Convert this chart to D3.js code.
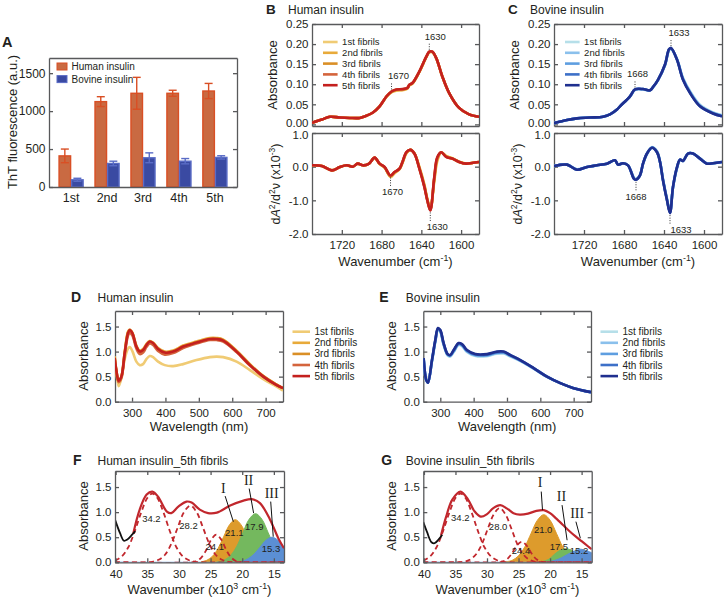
<!DOCTYPE html>
<html>
<head>
<meta charset="utf-8">
<script src="https://cdn.jsdelivr.net/npm/d3@7"></script>
<style>
body { margin: 0; background: #fff; }
</style>
</head>
<body>
<script>
// ---------- Panel A: ThT fluorescence ----------
var rounds = ["1st", "2nd", "3rd", "4th", "5th"];
var thtHuman = [410, 1125, 1235, 1235, 1265];
var thtHumanErr = [90, 65, 210, 40, 100];
var thtBovine = [95, 310, 385, 340, 390];
var thtBovineErr = [20, 30, 65, 35, 22];
var thtTicks = [0, 500, 1000, 1500];

// ---------- Panels B/C: FTIR ----------
var fibrilNames = ["1st fibrils", "2nd fibrils", "3rd fibrils", "4th fibrils", "5th fibrils"];
var irTicks = [1720, 1680, 1640, 1600];
var absTicks = [0, 0.05, 0.10, 0.15, 0.20, 0.25];
var d2Ticks = [-2, -1, 0, 1];

var wnHumanAbs = [1750,1740,1732,1722,1712,1702,1697,1689,1682,1675,1670,1665,1659,1654,1652,1649,1642,1635,1632,1629,1625,1619,1612,1602,1592,1582];
var humanAbs1 = [0.004,0.012,0.019,0.017,0.016,0.016,0.020,0.029,0.045,0.069,0.080,0.084,0.085,0.089,0.097,0.101,0.130,0.167,0.179,0.180,0.164,0.120,0.078,0.041,0.025,0.019];
var humanAbs2 = [0.004,0.012,0.019,0.017,0.016,0.016,0.020,0.029,0.045,0.069,0.081,0.085,0.086,0.090,0.098,0.102,0.131,0.168,0.180,0.180,0.165,0.120,0.078,0.041,0.025,0.019];
var humanAbs3 = [0.004,0.012,0.019,0.017,0.016,0.016,0.020,0.029,0.045,0.070,0.081,0.086,0.087,0.090,0.098,0.102,0.131,0.168,0.180,0.181,0.165,0.120,0.078,0.041,0.025,0.019];
var humanAbs4 = [0.004,0.012,0.019,0.017,0.016,0.016,0.020,0.029,0.045,0.070,0.082,0.087,0.087,0.091,0.099,0.103,0.132,0.169,0.181,0.181,0.165,0.120,0.078,0.041,0.025,0.019];
var humanAbs5 = [0.004,0.012,0.019,0.017,0.016,0.016,0.020,0.029,0.045,0.070,0.082,0.087,0.088,0.091,0.099,0.103,0.132,0.169,0.181,0.181,0.165,0.120,0.078,0.041,0.025,0.019];

var wnHumanD2 = [1750,1740,1730,1722,1715,1709,1704,1699,1693,1687,1682,1677,1671,1667,1662,1659,1655,1651,1647,1642,1637,1634,1631,1627,1624,1620,1615,1609,1602,1595,1589,1582];
var humanD2_1 = [0.04,0.02,-0.11,-0.01,0.04,0.00,0.09,0.04,0.08,0.26,0.08,-0.03,-0.31,-0.20,-0.08,0.10,0.40,0.50,0.40,0.00,-0.52,-0.95,-1.24,-0.45,0.15,0.42,0.32,0.25,0.15,0.09,0.11,0.14];
var humanD2_2 = [0.04,0.02,-0.11,-0.01,0.04,0.00,0.09,0.04,0.08,0.26,0.08,-0.02,-0.29,-0.18,-0.07,0.12,0.41,0.50,0.40,-0.02,-0.55,-0.97,-1.27,-0.40,0.20,0.43,0.31,0.25,0.15,0.09,0.11,0.14];
var humanD2_3 = [0.04,0.02,-0.11,-0.01,0.04,0.00,0.09,0.04,0.08,0.27,0.09,-0.02,-0.28,-0.17,-0.07,0.13,0.42,0.50,0.39,-0.04,-0.57,-0.98,-1.28,-0.36,0.24,0.43,0.30,0.24,0.14,0.09,0.11,0.14];
var humanD2_4 = [0.04,0.02,-0.11,-0.01,0.04,0.00,0.09,0.04,0.08,0.27,0.09,-0.01,-0.27,-0.16,-0.06,0.14,0.43,0.50,0.39,-0.05,-0.59,-1.00,-1.29,-0.33,0.26,0.43,0.29,0.24,0.14,0.09,0.11,0.14];
var humanD2_5 = [0.04,0.02,-0.11,-0.01,0.04,0.00,0.09,0.04,0.08,0.27,0.09,-0.01,-0.26,-0.16,-0.06,0.14,0.43,0.50,0.39,-0.06,-0.60,-1.00,-1.30,-0.31,0.28,0.43,0.29,0.24,0.14,0.09,0.11,0.14];

var wnBovineAbs = [1750,1737,1727,1714,1701,1694,1687,1684,1674,1669,1661,1654,1651,1646,1639,1635,1633,1627,1621,1614,1604,1591,1582];
var bovineAbs1 = [0.003,0.011,0.015,0.017,0.019,0.025,0.037,0.045,0.069,0.086,0.087,0.085,0.092,0.110,0.147,0.184,0.188,0.163,0.116,0.083,0.049,0.030,0.023];
var bovineAbs2 = [0.003,0.011,0.015,0.017,0.019,0.025,0.037,0.045,0.069,0.086,0.087,0.085,0.092,0.110,0.148,0.185,0.189,0.162,0.114,0.081,0.047,0.029,0.022];
var bovineAbs3 = [0.003,0.011,0.015,0.017,0.019,0.025,0.037,0.045,0.070,0.087,0.088,0.085,0.093,0.111,0.148,0.186,0.189,0.162,0.113,0.080,0.046,0.028,0.021];
var bovineAbs4 = [0.003,0.011,0.015,0.017,0.019,0.025,0.037,0.045,0.070,0.087,0.088,0.085,0.093,0.111,0.149,0.187,0.190,0.161,0.112,0.079,0.045,0.027,0.020];
var bovineAbs5 = [0.003,0.011,0.015,0.017,0.019,0.025,0.037,0.045,0.070,0.087,0.088,0.085,0.093,0.111,0.149,0.187,0.190,0.161,0.111,0.078,0.045,0.027,0.020];

var wnBovineD2 = [1750,1737,1727,1717,1707,1697,1689,1686,1681,1676,1670,1668,1664,1661,1657,1652,1647,1644,1641,1637,1634,1631,1627,1624,1621,1616,1611,1604,1597,1591,1582];
var bovineD2_1 = [0.02,0.06,-0.08,-0.01,0.04,0.09,0.18,0.06,0.10,0.04,-0.33,-0.37,-0.25,0.08,0.38,0.58,0.46,0.16,-0.37,-0.95,-1.32,-0.62,-0.05,0.20,0.18,0.40,0.40,0.25,0.10,0.10,0.14];
var bovineD2_2 = [0.02,0.06,-0.08,-0.01,0.04,0.09,0.18,0.06,0.10,0.04,-0.34,-0.38,-0.25,0.08,0.38,0.57,0.45,0.15,-0.38,-0.97,-1.34,-0.61,-0.04,0.20,0.17,0.39,0.39,0.24,0.09,0.10,0.14];
var bovineD2_3 = [0.02,0.06,-0.09,-0.01,0.04,0.09,0.19,0.06,0.10,0.04,-0.35,-0.38,-0.26,0.09,0.39,0.57,0.44,0.15,-0.39,-0.98,-1.36,-0.61,-0.03,0.21,0.17,0.39,0.39,0.24,0.09,0.10,0.14];
var bovineD2_4 = [0.02,0.06,-0.09,-0.01,0.04,0.09,0.19,0.06,0.10,0.04,-0.36,-0.39,-0.26,0.09,0.39,0.56,0.43,0.14,-0.40,-0.99,-1.37,-0.60,-0.02,0.21,0.17,0.39,0.39,0.24,0.09,0.10,0.14];
var bovineD2_5 = [0.02,0.06,-0.09,-0.01,0.04,0.09,0.19,0.06,0.10,0.04,-0.36,-0.39,-0.26,0.09,0.39,0.56,0.43,0.14,-0.41,-1.00,-1.38,-0.60,-0.01,0.21,0.17,0.39,0.39,0.24,0.09,0.10,0.14];

var humanPeaksAbs = [1670, 1630];
var bovinePeaksAbs = [1668, 1633];

// ---------- Panels D/E: UV-vis ----------
var wlTicks = [300, 400, 500, 600, 700];
var uvTicks = [0, 0.5, 1.0, 1.5];
var wlHuman = [248,253,260,268,278,288,293,301,313,323,333,343,353,363,378,398,423,453,493,533,553,573,613,653,693,733,752];
var humanUV1 = [0.90,0.60,0.31,0.47,0.85,1.06,1.09,1.01,0.80,0.73,0.75,0.85,0.91,0.89,0.80,0.73,0.71,0.75,0.83,0.89,0.90,0.89,0.80,0.63,0.45,0.30,0.22];
var humanUV2 = [0.90,0.63,0.40,0.50,0.99,1.40,1.44,1.38,1.12,1.02,1.05,1.15,1.21,1.18,1.07,1.00,1.02,1.12,1.20,1.27,1.27,1.24,1.02,0.75,0.51,0.34,0.27];
var humanUV3 = [0.89,0.62,0.40,0.49,0.97,1.38,1.42,1.36,1.10,1.00,1.03,1.13,1.19,1.16,1.05,0.98,1.00,1.10,1.18,1.25,1.26,1.23,1.01,0.74,0.51,0.34,0.27];
var humanUV4 = [0.85,0.60,0.39,0.47,0.93,1.32,1.37,1.32,1.06,0.95,0.98,1.09,1.16,1.13,1.01,0.94,0.97,1.07,1.16,1.23,1.23,1.20,0.99,0.72,0.50,0.33,0.27];
var humanUV5 = [0.87,0.63,0.42,0.50,0.97,1.37,1.43,1.37,1.10,1.00,1.03,1.13,1.20,1.17,1.05,0.98,1.00,1.10,1.18,1.25,1.25,1.22,1.00,0.73,0.50,0.33,0.27];

var wlBovine = [250,258,263,275,285,293,300,310,322,330,340,355,365,380,405,440,470,490,510,540,580,620,660,700,752];
var bovineUV1 = [0.84,0.42,0.38,0.80,1.19,1.43,1.39,1.13,0.92,0.90,0.99,1.13,1.11,0.99,0.91,0.91,0.96,0.96,0.90,0.81,0.66,0.49,0.37,0.27,0.19];
var bovineUV2 = [0.85,0.42,0.38,0.81,1.20,1.44,1.40,1.14,0.93,0.91,1.00,1.14,1.12,1.00,0.92,0.92,0.97,0.97,0.91,0.82,0.66,0.50,0.37,0.27,0.19];
var bovineUV3 = [0.86,0.43,0.38,0.82,1.21,1.45,1.41,1.15,0.94,0.92,1.01,1.15,1.13,1.01,0.93,0.93,0.98,0.98,0.92,0.82,0.67,0.50,0.37,0.27,0.19];
var bovineUV4 = [0.87,0.43,0.38,0.83,1.22,1.46,1.42,1.16,0.95,0.93,1.02,1.16,1.14,1.02,0.94,0.94,0.99,0.99,0.93,0.83,0.67,0.50,0.37,0.27,0.19];
var bovineUV5 = [0.87,0.43,0.38,0.83,1.23,1.47,1.43,1.17,0.95,0.93,1.03,1.17,1.15,1.03,0.95,0.95,1.00,1.00,0.93,0.83,0.67,0.50,0.37,0.27,0.19];

// ---------- Panels F/G: band deconvolution (wavenumber x10^3, absorbance) ----------
var kTicks = [40, 35, 30, 25, 20, 15];
var fMeasured = [[40.1,0.85],[39.3,0.58],[38.7,0.43],[38.2,0.45],[37.4,0.55],[36.9,0.62]];
var fFit = [[37.2,0.58],[36.2,1.05],[35.1,1.35],[34.2,1.41],[33.3,1.31],[31.9,1.01],[31.2,0.98],[30.1,1.11],[28.8,1.21],[28.0,1.19],[26.7,1.05],[25.4,0.98],[24.0,0.99],[21.9,1.13],[19.8,1.23],[18.5,1.26],[17.2,1.18],[15.6,0.85],[14.3,0.48],[13.4,0.28]];
var fBand342 = [[40.1,0.03],[39,0.12],[38,0.30],[37,0.61],[36,0.98],[35,1.28],[34.2,1.37],[33.4,1.28],[32.4,0.98],[31.4,0.61],[30.4,0.30],[29.4,0.12],[28.4,0.04],[27.4,0.01],[26,0],[13.4,0]];
var fBand282 = [[40.1,0],[35,0],[34.2,0.01],[33.2,0.05],[32.2,0.15],[31.2,0.37],[30.2,0.69],[29.2,1.00],[28.2,1.13],[27.2,1.00],[26.2,0.69],[25.2,0.37],[24.2,0.15],[23.2,0.05],[22.2,0.01],[21,0],[13.4,0]];
var fBand241 = [[40.1,0],[28,0],[27.3,0.02],[26.5,0.09],[25.7,0.24],[24.9,0.45],[24.1,0.55],[23.3,0.45],[22.5,0.24],[21.7,0.09],[20.9,0.02],[20,0],[13.4,0]];
var fBandI = [[26.5,0.01],[25.6,0.04],[24.7,0.12],[23.8,0.28],[22.9,0.52],[22,0.75],[21.1,0.85],[20.2,0.75],[19.3,0.52],[18.4,0.28],[17.5,0.12],[16.6,0.04],[15.7,0.01],[15,0]];
var fBandII = [[23.9,0.01],[22.9,0.04],[21.9,0.13],[20.9,0.31],[19.9,0.59],[18.9,0.86],[17.9,0.97],[16.9,0.86],[15.9,0.59],[14.9,0.31],[13.9,0.13],[13.4,0.07]];
var fBandIII = [[40.1,0],[21,0],[20.05,0.02],[19.1,0.07],[18.15,0.16],[17.2,0.30],[16.25,0.44],[15.3,0.50],[14.35,0.44],[13.4,0.30]];
var fBandLabels = ["34.2", "28.2", "24.1", "21.1", "17.9", "15.3"];

var gMeasured = [[40.1,0.80],[39.5,0.60],[38.8,0.40],[38.3,0.38],[37.7,0.45],[37.1,0.55]];
var gFit = [[37.3,0.53],[36.5,0.90],[35.5,1.25],[34.2,1.41],[33,1.25],[32,1.02],[31,0.91],[30,0.96],[29,1.08],[27.9,1.14],[26.8,1.07],[25.8,0.98],[24.8,0.95],[23.5,0.97],[22.3,1.02],[21,1.04],[20,0.98],[19,0.87],[18,0.75],[17,0.63],[16,0.52],[15,0.42],[14,0.32],[13.4,0.26]];
var gBand342 = [[40.1,0.03],[39,0.12],[38,0.30],[37,0.61],[36,0.98],[35,1.28],[34.2,1.37],[33.4,1.28],[32.4,0.98],[31.4,0.61],[30.4,0.30],[29.4,0.12],[28.4,0.04],[27.4,0.01],[26,0],[13.4,0]];
var gBand280 = [[40.1,0],[34.5,0],[33.7,0.01],[32.75,0.05],[31.8,0.15],[30.85,0.35],[29.9,0.66],[28.95,0.95],[28,1.08],[27.05,0.95],[26.1,0.66],[25.15,0.35],[24.2,0.15],[23.25,0.05],[22.3,0.01],[21,0],[13.4,0]];
var gBand244 = [[40.1,0],[28.5,0],[27.7,0.01],[26.9,0.055],[26.1,0.17],[25.3,0.33],[24.5,0.41],[23.7,0.33],[22.9,0.17],[22.1,0.055],[21.3,0.01],[20.5,0],[13.4,0]];
var gBandI = [[27,0.01],[26,0.04],[25,0.13],[24,0.31],[23,0.58],[22,0.84],[21,0.95],[20,0.84],[19,0.58],[18,0.31],[17,0.13],[16,0.04],[15,0.01],[14,0]];
var gBandII = [[22,0],[21.1,0.02],[20.2,0.06],[19.3,0.16],[18.4,0.24],[17.5,0.27],[16.6,0.24],[15.7,0.16],[14.8,0.06],[13.9,0.02],[13.4,0.01]];
var gBandIII = [[40.1,0],[21,0],[20.2,0.01],[19.2,0.04],[18.2,0.09],[17.2,0.16],[16.2,0.22],[15.2,0.26],[14.2,0.23],[13.4,0.19]];
var gBandLabels = ["34.2", "28.0", "24.4", "21.0", "17.5", "15.2"];

// ---------- styles ----------
var FONT = '"Liberation Sans", Arial, Helvetica, sans-serif';
var INK = "#231f20";
var FRAME = "#58595b";
var humanColors = ["#f0cb74", "#e8aa3a", "#da8f26", "#d4643c", "#c4201e"];
var bovineColors = ["#b6dfe9", "#8ac0ec", "#5e9ee0", "#3d70c8", "#1f2f8f"];
var FIT_RED = "#c1272d";

var svg = d3.select("body").append("svg")
    .attr("width", 724).attr("height", 598)
    .attr("font-family", FONT);

//Text helper with italic / superscript parts
function rich(t, parts, fs) {
    var cur = 0;
    parts.forEach(function(p) {
        var target = p[1] === "sup" ? -fs * 0.38 : 0;
        var ts = t.append("tspan").text(p[0]).attr("dy", target - cur);
        if (p[1] === "sup") ts.attr("font-size", fs * 0.68);
        if (p[1] === "it") ts.attr("font-style", "italic");
        cur = target;
    });
    return t;
}

function label(x, y, s, o) {
    o = o || {};
    var t = svg.append("text")
        .attr("x", x).attr("y", y)
        .attr("fill", INK)
        .attr("font-size", o.size || 12)
        .attr("text-anchor", o.anchor || "start");
    if (o.bold) t.attr("font-weight", "bold");
    if (o.family) t.attr("font-family", o.family);
    if (typeof s === "string") t.text(s); else rich(t, s, o.size || 12);
    return t;
}

function vlabel(x, y, s, size) {
    var t = svg.append("text")
        .attr("transform", "translate(" + x + "," + y + ") rotate(-90)")
        .attr("fill", INK).attr("font-size", size).attr("text-anchor", "middle");
    if (typeof s === "string") t.text(s); else rich(t, s, size);
    return t;
}

function styleAxis(g) {
    g.attr("font-family", null).attr("font-size", null);
    g.selectAll(".domain, .tick line").attr("stroke", FRAME).attr("stroke-width", 1.3);
    g.selectAll(".tick text").attr("fill", INK).attr("font-size", 11.5);
}

//Frame with inward ticks on all four sides; returns the left axis group
function frame(x, y, xTicks, yTicks, showX, xFmt, yFmt) {
    var yb = y.range()[0], yt = y.range()[1];
    var xl = x.range()[0], xr = x.range()[1];
    var bottom = d3.axisBottom(x).tickValues(xTicks).tickSize(-4).tickSizeOuter(0).tickPadding(7.3);
    bottom.tickFormat(showX ? xFmt : "");
    svg.append("g").attr("transform", "translate(0," + yb + ")").call(bottom).call(styleAxis);
    svg.append("g").attr("transform", "translate(0," + yt + ")")
        .call(d3.axisTop(x).tickValues(xTicks).tickSize(-4).tickSizeOuter(0).tickFormat(""))
        .call(styleAxis);
    var left = svg.append("g").attr("transform", "translate(" + xl + ",0)")
        .call(d3.axisLeft(y).tickValues(yTicks).tickSize(-4).tickSizeOuter(0).tickPadding(3.5).tickFormat(yFmt))
        .call(styleAxis);
    svg.append("g").attr("transform", "translate(" + xr + ",0)")
        .call(d3.axisRight(y).tickValues(yTicks).tickSize(-4).tickSizeOuter(0).tickFormat(""))
        .call(styleAxis);
    return left;
}

var clipCount = 0;
function clipped(x, y) {
    var id = "clip" + (clipCount++);
    svg.append("clipPath").attr("id", id).append("rect")
        .attr("x", x.range()[0]).attr("y", y.range()[1])
        .attr("width", x.range()[1] - x.range()[0])
        .attr("height", y.range()[0] - y.range()[1]);
    return svg.append("g").attr("clip-path", "url(#" + id + ")");
}

function drawSeries(g, x, y, xs, series, colors, width) {
    var line = d3.line()
        .x(function(d) { return x(d[0]); })
        .y(function(d) { return y(d[1]); })
        .curve(d3.curveCatmullRom.alpha(0.5));
    series.forEach(function(vals, i) {
        g.append("path")
            .datum(d3.zip(xs, vals))
            .attr("d", line)
            .attr("fill", "none")
            .attr("stroke", colors[i])
            .attr("stroke-width", width)
            .attr("stroke-linejoin", "round");
    });
}

function legend(x0, y0, dy, len, colors, size) {
    fibrilNames.forEach(function(name, i) {
        svg.append("line")
            .attr("x1", x0).attr("x2", x0 + len)
            .attr("y1", y0 + i * dy).attr("y2", y0 + i * dy)
            .attr("stroke", colors[i]).attr("stroke-width", 2.6);
        label(x0 + len + 4.5, y0 + i * dy + size * 0.35, name, {size: size});
    });
}

function dotted(x, y1, y2) {
    svg.append("line").attr("x1", x).attr("x2", x).attr("y1", y1).attr("y2", y2)
        .attr("stroke", "#333").attr("stroke-width", 1).attr("stroke-dasharray", "1,1.5");
}

function fmt1(d) { return d.toFixed(1); }
function fmt2(d) { return d.toFixed(2); }

// =============== Panel A ===============
var xA = d3.scaleBand().domain(rounds).range([49, 237]).paddingInner(0.33).paddingOuter(0.28);
var xA1 = d3.scaleBand().domain(["h", "b"]).range([0, xA.bandwidth()]).paddingInner(0.08);
var yA = d3.scaleLinear().domain([0, 1700]).range([187, 58]);

var gA = svg.append("g");
function bars(vals, errs, key, fill, stroke) {
    rounds.forEach(function(r, i) {
        var bx = xA(r) + xA1(key), bw = xA1.bandwidth();
        gA.append("rect")
            .attr("x", bx).attr("y", yA(vals[i]))
            .attr("width", bw).attr("height", yA(0) - yA(vals[i]))
            .attr("fill", fill).attr("stroke", stroke).attr("stroke-width", 1.4);
        var cx = bx + bw / 2;
        var hi = yA(vals[i] + errs[i]), lo = yA(vals[i] - errs[i]);
        gA.append("line").attr("x1", cx).attr("x2", cx).attr("y1", hi).attr("y2", lo)
            .attr("stroke", stroke).attr("stroke-width", 1.4);
        [hi, lo].forEach(function(yy) {
            gA.append("line").attr("x1", cx - 4).attr("x2", cx + 4).attr("y1", yy).attr("y2", yy)
                .attr("stroke", stroke).attr("stroke-width", 1.4);
        });
    });
}
bars(thtHuman, thtHumanErr, "h", "#c96a42", "#d94f24");
bars(thtBovine, thtBovineErr, "b", "#3a4aa2", "#5a6cc6");

svg.append("g").attr("transform", "translate(0,187)")
    .call(d3.axisBottom(xA).tickSize(0).tickSizeOuter(0).tickPadding(6.5))
    .call(styleAxis)
    .call(function(g) { g.selectAll(".tick text").attr("font-size", 12.5); });
svg.append("g").attr("transform", "translate(0,58)")
    .call(d3.axisTop(xA).tickSize(0).tickSizeOuter(0).tickFormat(""))
    .call(styleAxis);
svg.append("g").attr("transform", "translate(49,0)")
    .call(d3.axisLeft(yA).tickValues(thtTicks).tickSize(-4).tickSizeOuter(0).tickPadding(3.5).tickFormat(d3.format("d")))
    .call(styleAxis)
    .call(function(g) { g.selectAll(".tick text").attr("font-size", 12); });
svg.append("g").attr("transform", "translate(237,0)")
    .call(d3.axisRight(yA).tickValues(thtTicks).tickSize(-4).tickSizeOuter(0).tickFormat(""))
    .call(styleAxis);

[["Human insulin", "#c96a42", "#d94f24"], ["Bovine insulin", "#3a4aa2", "#5a6cc6"]].forEach(function(d, i) {
    svg.append("rect").attr("x", 57).attr("y", 63 + i * 12.6).attr("width", 10).attr("height", 7)
        .attr("fill", d[1]).attr("stroke", d[2]).attr("stroke-width", 1);
    label(71.5, 70 + i * 12.6, d[0], {size: 10});
});
label(2, 47, "A", {size: 14.5, bold: true});
vlabel(17, 122, "ThT fluorescence (a.u.)", 13);

// =============== Panels B and C ===============
function irPanel(x0, x1, letter, title, wnAbs, absSeries, wnD2, d2Series, colors, peaks, ann) {
    var x = d3.scaleLinear().domain([1750, 1582]).range([x0, x1]);
    var yTop = d3.scaleLinear().domain([-0.004, 0.25]).range([126, 24]);
    var yBot = d3.scaleLinear().domain([-2, 1]).range([234, 133]);

    var leftTop = frame(x, yTop, irTicks, absTicks, false, null, fmt2);
    var leftBot = frame(x, yBot, irTicks, d2Ticks, true, d3.format("d"), fmt1);
    //keep the two stacked end labels apart
    leftTop.selectAll(".tick text").filter(function(d) { return d === 0; }).attr("transform", "translate(0,-1.5)");
    leftBot.selectAll(".tick text").filter(function(d) { return d === 1; }).attr("transform", "translate(0,2)");

    drawSeries(clipped(x, yTop), x, yTop, wnAbs, absSeries, colors, 2.6);
    drawSeries(clipped(x, yBot), x, yBot, wnD2, d2Series, colors, 2.6);

    legend(x0 + 11, 42, 10.8, 14.6, colors, 9.5);

    //peak markers
    peaks.forEach(function(p, i) {
        var vTop = absSeries[4][wnAbs.indexOf(ann.topAt[i])];
        var yt = yTop(vTop);
        dotted(x(ann.topAt[i]), yt - 2, yt - 9.5);
        label(x(ann.topAt[i]) + ann.topDx[i], yt - 12, String(p), {size: 9.5, anchor: "middle"});
        var vBot = d2Series[4][wnD2.indexOf(ann.botAt[i])];
        var yb = yBot(vBot);
        dotted(x(ann.botAt[i]), yb + 2, yb + 11);
        label(x(ann.botAt[i]) + ann.botDx[i], yb + 20, String(p), {size: 9.5, anchor: "middle"});
    });

    label(x0 - 46, 13.5, letter, {size: 13.5, bold: true});
    label(x0 - 24, 13.5, title, {size: 12});
    vlabel(x0 - 35, 75, "Absorbance", 13);
    vlabel(x0 - 32, 184, [["d"], ["A", "it"], ["2", "sup"], ["/d"], ["2", "sup"], ["\u03bd"], [" (x10"], ["-3", "sup"], [")"]], 12.5);
    label((x0 + x1) / 2, 266, [["Wavenumber (cm"], ["-1", "sup"], [")"]], {size: 13, anchor: "middle"});
}

irPanel(312, 479, "B", "Human insulin", wnHumanAbs,
    [humanAbs1, humanAbs2, humanAbs3, humanAbs4, humanAbs5],
    wnHumanD2, [humanD2_1, humanD2_2, humanD2_3, humanD2_4, humanD2_5],
    humanColors, humanPeaksAbs,
    {topAt: [1670, 1632], topDx: [7, 6], botAt: [1671, 1631], botDx: [2, 7]});

irPanel(554, 722, "C", "Bovine insulin", wnBovineAbs,
    [bovineAbs1, bovineAbs2, bovineAbs3, bovineAbs4, bovineAbs5],
    wnBovineD2, [bovineD2_1, bovineD2_2, bovineD2_3, bovineD2_4, bovineD2_5],
    bovineColors, bovinePeaksAbs,
    {topAt: [1669, 1633], topDx: [2.5, 8], botAt: [1668, 1634], botDx: [0, 11]});

// =============== Panels D and E ===============
function uvPanel(x0, x1, letter, title, wl, series, colors) {
    var x = d3.scaleLinear().domain([249, 752]).range([x0, x1]);
    var y = d3.scaleLinear().domain([0, 1.81]).range([401.7, 311]);
    frame(x, y, wlTicks, uvTicks, true, d3.format("d"), fmt1);
    drawSeries(clipped(x, y), x, y, wl, series, colors, 2.6);
    legend(x1 + 9.5, 331.7, 11.1, 17.5, colors, 10);
    label(x0 - 44, 301.5, letter, {size: 14, bold: true});
    label(x0 - 17.5, 301.5, title, {size: 12});
    vlabel(x0 - 27, 356, "Absorbance", 13);
    label((x0 + x1) / 2, 431, "Wavelength (nm)", {size: 13, anchor: "middle"});
}
uvPanel(115, 283, "D", "Human insulin", wlHuman,
    [humanUV1, humanUV2, humanUV3, humanUV4, humanUV5], humanColors);
uvPanel(423.3, 591, "E", "Bovine insulin", wlBovine,
    [bovineUV1, bovineUV2, bovineUV3, bovineUV4, bovineUV5], bovineColors);

// =============== Panels F and G ===============
function decoPanel(x0, x1, letter, title, measured, fit, dashedBands, filledBands, bandLabels, labelPos, romanPos) {
    var x = d3.scaleLinear().domain([40.1, 13.4]).range([x0, x1]);
    var y = d3.scaleLinear().domain([0, 1.82]).range([562.3, 471]);
    var g = clipped(x, y);
    var area = d3.area()
        .x(function(d) { return x(d[0]); })
        .y0(y(0))
        .y1(function(d) { return y(d[1]); })
        .curve(d3.curveCatmullRom.alpha(0.5));
    var line = d3.line()
        .x(function(d) { return x(d[0]); })
        .y(function(d) { return y(d[1]); })
        .curve(d3.curveCatmullRom.alpha(0.5));
    var fills = ["#dd9b2c", "#74b85e", "#5b8fd4"];
    filledBands.forEach(function(b, i) {
        g.append("path").datum(b).attr("d", area)
            .attr("fill", fills[i]).attr("stroke", fills[i]).attr("stroke-width", 1);
    });
    dashedBands.forEach(function(b) {
        g.append("path").datum(b).attr("d", line)
            .attr("fill", "none").attr("stroke", FIT_RED)
            .attr("stroke-width", 1.8).attr("stroke-dasharray", "5,3.5");
    });
    g.append("path").datum(fit).attr("d", line)
        .attr("fill", "none").attr("stroke", FIT_RED).attr("stroke-width", 2.2);
    g.append("path").datum(measured).attr("d", line)
        .attr("fill", "none").attr("stroke", "#111").attr("stroke-width", 1.8);

    frame(x, y, kTicks, uvTicks, true, d3.format("d"), fmt1);

    bandLabels.forEach(function(s, i) {
        label(x(labelPos[i][0]), y(labelPos[i][1]), s, {size: 9.5, anchor: "middle"});
    });
    ["I", "II", "III"].forEach(function(s, i) {
        var r = romanPos[i];
        label(x(r[0]), y(r[1]), s, {size: 14, anchor: "middle", family: '"Liberation Serif", "Times New Roman", serif'});
        svg.append("line")
            .attr("x1", x(r[2])).attr("y1", y(r[3]))
            .attr("x2", x(r[4])).attr("y2", y(r[5]))
            .attr("stroke", "#111").attr("stroke-width", 1);
    });

    label(x0 - 42, 465, letter, {size: 14, bold: true});
    label(x0 - 17.5, 465, title, {size: 12});
    vlabel(x0 - 27, 516, "Absorbance", 13);
    label((x0 + x1) / 2, 594, [["Wavenumber (x10"], ["3", "sup"], [" cm"], ["-1", "sup"], [")"]], {size: 13, anchor: "middle"});
}

decoPanel(115, 284, "F", "Human insulin_5th fibrils", fMeasured, fFit,
    [fBand342, fBand282, fBand241], [fBandI, fBandII, fBandIII], fBandLabels,
    [[34.35, 0.81], [28.5, 0.66], [24.35, 0.245], [21.25, 0.52], [18.1, 0.64], [15.45, 0.2]],
    [[23.0, 1.38, 22.7, 1.32, 21.4, 0.81], [19.0, 1.54, 18.9, 1.47, 18.2, 0.98], [15.35, 1.28, 15.5, 1.21, 15.1, 0.51]]);

decoPanel(423.3, 591.7, "G", "Bovine insulin_5th fibrils", gMeasured, gFit,
    [gBand342, gBand280, gBand244], [gBandI, gBandII, gBandIII], gBandLabels,
    [[34.23, 0.82], [28.24, 0.65], [24.6, 0.165], [21.1, 0.58], [18.6, 0.245], [15.4, 0.165]],
    [[21.6, 1.50, 21.4, 1.41, 21.2, 1.04], [18.2, 1.22, 18.1, 1.14, 17.3, 0.44], [15.7, 0.88, 15.9, 0.81, 15.2, 0.48]]);
</script>
</body>
</html>
